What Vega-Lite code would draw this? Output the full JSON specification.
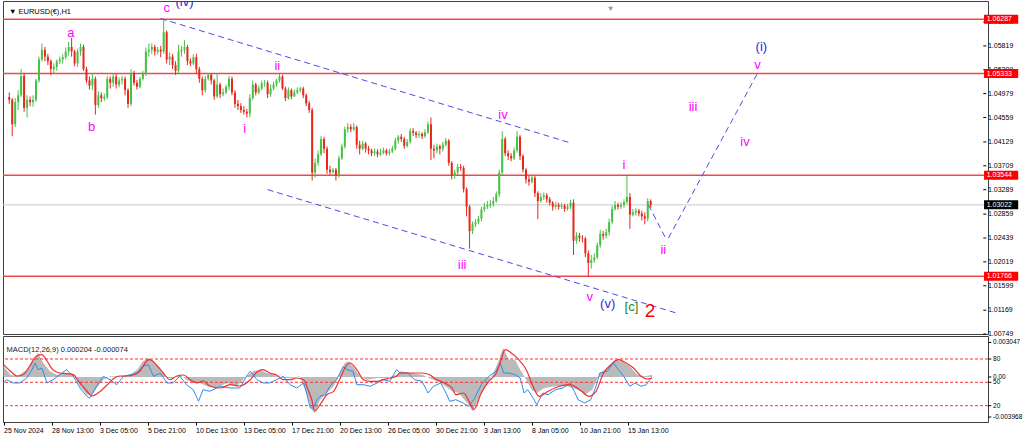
{
"$schema":"https://vega.github.io/schema/vega-lite/v6.json",
"background":"#ffffff",
"padding":{"left":0,"top":0,"right":0,"bottom":0},
"bounds":"flush",
"spacing":2,
"config":{"view":{"stroke":"#404040","strokeWidth":1},"font":"Liberation Sans","axis":{"labelFont":"Liberation Sans","labelColor":"#000000","tickColor":"#000000","labelFontSize":7,"grid":false,"domain":false}},
"datasets":{
"cd":[
{"i":1,"o":1.0492,"h":1.0500,"l":1.0480,"c":1.0487},{"i":5,"o":1.0487,"h":1.0490,"l":1.0423,"c":1.0444},{"i":9,"o":1.0444,"h":1.0490,"l":1.0439,"c":1.0483},{"i":13,"o":1.0483,"h":1.0504,"l":1.0469,"c":1.0495},{"i":17,"o":1.0495,"h":1.0541,"l":1.0492,"c":1.0529},{"i":21,"o":1.0529,"h":1.0534,"l":1.0466,"c":1.0473},{"i":25,"o":1.0473,"h":1.0495,"l":1.0456,"c":1.0487},{"i":29,"o":1.0487,"h":1.0493,"l":1.0476,"c":1.0483},{"i":33,"o":1.0483,"h":1.0495,"l":1.0475,"c":1.0487},{"i":37,"o":1.0487,"h":1.0524,"l":1.0483,"c":1.0521},
{"i":41,"o":1.0521,"h":1.0563,"l":1.0517,"c":1.0558},{"i":45,"o":1.0558,"h":1.0586,"l":1.0555,"c":1.0575},{"i":49,"o":1.0575,"h":1.0580,"l":1.0555,"c":1.0563},{"i":53,"o":1.0563,"h":1.0568,"l":1.0548,"c":1.0555},{"i":57,"o":1.0555,"h":1.0558,"l":1.0531,"c":1.0541},{"i":61,"o":1.0541,"h":1.0551,"l":1.0534,"c":1.0545},{"i":65,"o":1.0545,"h":1.0558,"l":1.0538,"c":1.0555},{"i":69,"o":1.0555,"h":1.0563,"l":1.0550,"c":1.0558},{"i":73,"o":1.0558,"h":1.0567,"l":1.0551,"c":1.0562},{"i":77,"o":1.0562,"h":1.0579,"l":1.0558,"c":1.0572},
{"i":81,"o":1.0572,"h":1.0589,"l":1.0565,"c":1.0580},{"i":85,"o":1.0580,"h":1.0596,"l":1.0563,"c":1.0572},{"i":89,"o":1.0572,"h":1.0575,"l":1.0546,"c":1.0551},{"i":93,"o":1.0551,"h":1.0577,"l":1.0545,"c":1.0572},{"i":97,"o":1.0572,"h":1.0586,"l":1.0565,"c":1.0580},{"i":101,"o":1.0580,"h":1.0584,"l":1.0538,"c":1.0541},{"i":105,"o":1.0541,"h":1.0545,"l":1.0516,"c":1.0521},{"i":109,"o":1.0521,"h":1.0528,"l":1.0505,"c":1.0512},{"i":113,"o":1.0512,"h":1.0534,"l":1.0504,"c":1.0524},{"i":117,"o":1.0524,"h":1.0528,"l":1.0461,"c":1.0478},
{"i":121,"o":1.0478,"h":1.0502,"l":1.0473,"c":1.0495},{"i":125,"o":1.0495,"h":1.0500,"l":1.0483,"c":1.0490},{"i":129,"o":1.0490,"h":1.0498,"l":1.0485,"c":1.0492},{"i":133,"o":1.0492,"h":1.0529,"l":1.0488,"c":1.0524},{"i":137,"o":1.0524,"h":1.0528,"l":1.0507,"c":1.0517},{"i":141,"o":1.0517,"h":1.0534,"l":1.0510,"c":1.0528},{"i":145,"o":1.0528,"h":1.0533,"l":1.0507,"c":1.0514},{"i":149,"o":1.0514,"h":1.0526,"l":1.0509,"c":1.0521},{"i":153,"o":1.0521,"h":1.0529,"l":1.0514,"c":1.0524},{"i":157,"o":1.0524,"h":1.0528,"l":1.0495,"c":1.0504},
{"i":161,"o":1.0504,"h":1.0507,"l":1.0473,"c":1.0480},{"i":165,"o":1.0480,"h":1.0541,"l":1.0476,"c":1.0534},{"i":169,"o":1.0534,"h":1.0538,"l":1.0512,"c":1.0517},{"i":173,"o":1.0517,"h":1.0522,"l":1.0505,"c":1.0510},{"i":177,"o":1.0510,"h":1.0528,"l":1.0507,"c":1.0524},{"i":181,"o":1.0524,"h":1.0538,"l":1.0521,"c":1.0533},{"i":185,"o":1.0533,"h":1.0579,"l":1.0529,"c":1.0572},{"i":189,"o":1.0572,"h":1.0586,"l":1.0563,"c":1.0575},{"i":193,"o":1.0575,"h":1.0586,"l":1.0568,"c":1.0580},{"i":197,"o":1.0580,"h":1.0584,"l":1.0565,"c":1.0572},
{"i":201,"o":1.0572,"h":1.0580,"l":1.0567,"c":1.0575},{"i":205,"o":1.0575,"h":1.0582,"l":1.0562,"c":1.0572},{"i":209,"o":1.0572,"h":1.0628,"l":1.0568,"c":1.0606},{"i":213,"o":1.0606,"h":1.0609,"l":1.0551,"c":1.0558},{"i":217,"o":1.0558,"h":1.0570,"l":1.0548,"c":1.0563},{"i":221,"o":1.0563,"h":1.0568,"l":1.0541,"c":1.0548},{"i":225,"o":1.0548,"h":1.0555,"l":1.0531,"c":1.0538},{"i":229,"o":1.0538,"h":1.0584,"l":1.0534,"c":1.0572},{"i":233,"o":1.0572,"h":1.0582,"l":1.0563,"c":1.0575},{"i":237,"o":1.0575,"h":1.0592,"l":1.0568,"c":1.0580},
{"i":241,"o":1.0580,"h":1.0584,"l":1.0548,"c":1.0555},{"i":245,"o":1.0555,"h":1.0560,"l":1.0546,"c":1.0551},{"i":249,"o":1.0551,"h":1.0567,"l":1.0548,"c":1.0562},{"i":253,"o":1.0562,"h":1.0568,"l":1.0533,"c":1.0541},{"i":257,"o":1.0541,"h":1.0545,"l":1.0517,"c":1.0524},{"i":261,"o":1.0524,"h":1.0528,"l":1.0495,"c":1.0504},{"i":265,"o":1.0504,"h":1.0529,"l":1.0500,"c":1.0524},{"i":269,"o":1.0524,"h":1.0534,"l":1.0521,"c":1.0531},{"i":273,"o":1.0531,"h":1.0534,"l":1.0514,"c":1.0521},{"i":277,"o":1.0521,"h":1.0524,"l":1.0487,"c":1.0493},
{"i":281,"o":1.0493,"h":1.0534,"l":1.0490,"c":1.0514},{"i":285,"o":1.0514,"h":1.0517,"l":1.0490,"c":1.0497},{"i":289,"o":1.0497,"h":1.0507,"l":1.0493,"c":1.0500},{"i":293,"o":1.0500,"h":1.0514,"l":1.0497,"c":1.0510},{"i":297,"o":1.0510,"h":1.0529,"l":1.0504,"c":1.0524},{"i":301,"o":1.0524,"h":1.0528,"l":1.0495,"c":1.0500},{"i":305,"o":1.0500,"h":1.0504,"l":1.0473,"c":1.0480},{"i":309,"o":1.0480,"h":1.0487,"l":1.0469,"c":1.0476},{"i":313,"o":1.0476,"h":1.0481,"l":1.0464,"c":1.0469},{"i":317,"o":1.0469,"h":1.0476,"l":1.0461,"c":1.0466},
{"i":321,"o":1.0466,"h":1.0471,"l":1.0456,"c":1.0463},{"i":325,"o":1.0463,"h":1.0497,"l":1.0456,"c":1.0490},{"i":329,"o":1.0490,"h":1.0521,"l":1.0487,"c":1.0514},{"i":333,"o":1.0514,"h":1.0517,"l":1.0495,"c":1.0500},{"i":337,"o":1.0500,"h":1.0512,"l":1.0497,"c":1.0507},{"i":341,"o":1.0507,"h":1.0521,"l":1.0504,"c":1.0516},{"i":345,"o":1.0516,"h":1.0522,"l":1.0510,"c":1.0517},{"i":349,"o":1.0517,"h":1.0521,"l":1.0490,"c":1.0497},{"i":353,"o":1.0497,"h":1.0514,"l":1.0492,"c":1.0507},{"i":357,"o":1.0507,"h":1.0519,"l":1.0504,"c":1.0514},
{"i":361,"o":1.0514,"h":1.0524,"l":1.0510,"c":1.0521},{"i":365,"o":1.0521,"h":1.0533,"l":1.0517,"c":1.0528},{"i":369,"o":1.0528,"h":1.0531,"l":1.0504,"c":1.0507},{"i":373,"o":1.0507,"h":1.0510,"l":1.0485,"c":1.0490},{"i":377,"o":1.0490,"h":1.0509,"l":1.0487,"c":1.0504},{"i":381,"o":1.0504,"h":1.0507,"l":1.0488,"c":1.0493},{"i":385,"o":1.0493,"h":1.0505,"l":1.0492,"c":1.0500},{"i":389,"o":1.0500,"h":1.0509,"l":1.0497,"c":1.0504},{"i":393,"o":1.0504,"h":1.0510,"l":1.0500,"c":1.0507},{"i":397,"o":1.0507,"h":1.0510,"l":1.0490,"c":1.0495},
{"i":401,"o":1.0495,"h":1.0498,"l":1.0476,"c":1.0481},{"i":405,"o":1.0481,"h":1.0485,"l":1.0464,"c":1.0469},{"i":409,"o":1.0469,"h":1.0473,"l":1.0345,"c":1.0359},{"i":413,"o":1.0359,"h":1.0384,"l":1.0350,"c":1.0376},{"i":417,"o":1.0376,"h":1.0398,"l":1.0371,"c":1.0391},{"i":421,"o":1.0391,"h":1.0423,"l":1.0388,"c":1.0418},{"i":425,"o":1.0418,"h":1.0422,"l":1.0393,"c":1.0401},{"i":429,"o":1.0401,"h":1.0405,"l":1.0357,"c":1.0364},{"i":433,"o":1.0364,"h":1.0371,"l":1.0355,"c":1.0360},{"i":437,"o":1.0360,"h":1.0367,"l":1.0357,"c":1.0364},
{"i":441,"o":1.0364,"h":1.0367,"l":1.0345,"c":1.0353},{"i":445,"o":1.0353,"h":1.0389,"l":1.0350,"c":1.0384},{"i":449,"o":1.0384,"h":1.0410,"l":1.0381,"c":1.0405},{"i":453,"o":1.0405,"h":1.0440,"l":1.0401,"c":1.0435},{"i":457,"o":1.0435,"h":1.0446,"l":1.0429,"c":1.0439},{"i":461,"o":1.0439,"h":1.0444,"l":1.0430,"c":1.0435},{"i":465,"o":1.0435,"h":1.0446,"l":1.0432,"c":1.0439},{"i":469,"o":1.0439,"h":1.0442,"l":1.0401,"c":1.0408},{"i":473,"o":1.0408,"h":1.0415,"l":1.0391,"c":1.0401},{"i":477,"o":1.0401,"h":1.0415,"l":1.0398,"c":1.0410},
{"i":481,"o":1.0410,"h":1.0413,"l":1.0394,"c":1.0401},{"i":485,"o":1.0401,"h":1.0406,"l":1.0391,"c":1.0398},{"i":489,"o":1.0398,"h":1.0401,"l":1.0388,"c":1.0393},{"i":493,"o":1.0393,"h":1.0401,"l":1.0389,"c":1.0396},{"i":497,"o":1.0396,"h":1.0400,"l":1.0386,"c":1.0391},{"i":501,"o":1.0391,"h":1.0401,"l":1.0388,"c":1.0394},{"i":505,"o":1.0394,"h":1.0403,"l":1.0391,"c":1.0398},{"i":509,"o":1.0398,"h":1.0401,"l":1.0389,"c":1.0393},{"i":513,"o":1.0393,"h":1.0401,"l":1.0389,"c":1.0396},{"i":517,"o":1.0396,"h":1.0406,"l":1.0393,"c":1.0401},
{"i":521,"o":1.0401,"h":1.0420,"l":1.0398,"c":1.0415},{"i":525,"o":1.0415,"h":1.0425,"l":1.0410,"c":1.0422},{"i":529,"o":1.0422,"h":1.0427,"l":1.0413,"c":1.0418},{"i":533,"o":1.0418,"h":1.0422,"l":1.0401,"c":1.0406},{"i":537,"o":1.0406,"h":1.0418,"l":1.0403,"c":1.0413},{"i":541,"o":1.0413,"h":1.0437,"l":1.0410,"c":1.0432},{"i":545,"o":1.0432,"h":1.0437,"l":1.0423,"c":1.0429},{"i":549,"o":1.0429,"h":1.0432,"l":1.0420,"c":1.0425},{"i":553,"o":1.0425,"h":1.0432,"l":1.0420,"c":1.0427},{"i":557,"o":1.0427,"h":1.0430,"l":1.0418,"c":1.0423},
{"i":561,"o":1.0423,"h":1.0435,"l":1.0420,"c":1.0430},{"i":565,"o":1.0430,"h":1.0449,"l":1.0427,"c":1.0444},{"i":569,"o":1.0444,"h":1.0456,"l":1.0381,"c":1.0401},{"i":573,"o":1.0401,"h":1.0408,"l":1.0384,"c":1.0398},{"i":577,"o":1.0398,"h":1.0410,"l":1.0393,"c":1.0405},{"i":581,"o":1.0405,"h":1.0408,"l":1.0391,"c":1.0401},{"i":585,"o":1.0401,"h":1.0413,"l":1.0396,"c":1.0408},{"i":589,"o":1.0408,"h":1.0420,"l":1.0405,"c":1.0415},{"i":593,"o":1.0415,"h":1.0418,"l":1.0371,"c":1.0376},{"i":597,"o":1.0376,"h":1.0379,"l":1.0347,"c":1.0353},
{"i":601,"o":1.0353,"h":1.0364,"l":1.0348,"c":1.0359},{"i":605,"o":1.0359,"h":1.0374,"l":1.0355,"c":1.0369},{"i":609,"o":1.0369,"h":1.0374,"l":1.0362,"c":1.0367},{"i":613,"o":1.0367,"h":1.0371,"l":1.0324,"c":1.0330},{"i":617,"o":1.0330,"h":1.0333,"l":1.0282,"c":1.0299},{"i":621,"o":1.0299,"h":1.0302,"l":1.0225,"c":1.0256},{"i":625,"o":1.0256,"h":1.0273,"l":1.0251,"c":1.0268},{"i":629,"o":1.0268,"h":1.0277,"l":1.0263,"c":1.0272},{"i":633,"o":1.0272,"h":1.0283,"l":1.0268,"c":1.0278},{"i":637,"o":1.0278,"h":1.0299,"l":1.0273,"c":1.0294},
{"i":641,"o":1.0294,"h":1.0306,"l":1.0290,"c":1.0299},{"i":645,"o":1.0299,"h":1.0309,"l":1.0295,"c":1.0302},{"i":649,"o":1.0302,"h":1.0311,"l":1.0297,"c":1.0304},{"i":653,"o":1.0304,"h":1.0316,"l":1.0299,"c":1.0309},{"i":657,"o":1.0309,"h":1.0326,"l":1.0306,"c":1.0321},{"i":661,"o":1.0321,"h":1.0364,"l":1.0316,"c":1.0359},{"i":665,"o":1.0359,"h":1.0432,"l":1.0353,"c":1.0418},{"i":669,"o":1.0418,"h":1.0422,"l":1.0388,"c":1.0393},{"i":673,"o":1.0393,"h":1.0398,"l":1.0381,"c":1.0388},{"i":677,"o":1.0388,"h":1.0393,"l":1.0379,"c":1.0384},
{"i":681,"o":1.0384,"h":1.0403,"l":1.0381,"c":1.0398},{"i":685,"o":1.0398,"h":1.0432,"l":1.0394,"c":1.0422},{"i":689,"o":1.0422,"h":1.0425,"l":1.0381,"c":1.0388},{"i":693,"o":1.0388,"h":1.0391,"l":1.0359,"c":1.0364},{"i":697,"o":1.0364,"h":1.0367,"l":1.0340,"c":1.0347},{"i":701,"o":1.0347,"h":1.0353,"l":1.0336,"c":1.0343},{"i":705,"o":1.0343,"h":1.0355,"l":1.0340,"c":1.0350},{"i":709,"o":1.0350,"h":1.0353,"l":1.0316,"c":1.0323},{"i":713,"o":1.0323,"h":1.0326,"l":1.0277,"c":1.0309},{"i":717,"o":1.0309,"h":1.0323,"l":1.0306,"c":1.0316},
{"i":721,"o":1.0316,"h":1.0324,"l":1.0311,"c":1.0319},{"i":725,"o":1.0319,"h":1.0323,"l":1.0306,"c":1.0312},{"i":729,"o":1.0312,"h":1.0316,"l":1.0301,"c":1.0306},{"i":733,"o":1.0306,"h":1.0309,"l":1.0292,"c":1.0299},{"i":737,"o":1.0299,"h":1.0307,"l":1.0295,"c":1.0302},{"i":741,"o":1.0302,"h":1.0306,"l":1.0294,"c":1.0299},{"i":745,"o":1.0299,"h":1.0306,"l":1.0295,"c":1.0301},{"i":749,"o":1.0301,"h":1.0304,"l":1.0290,"c":1.0295},{"i":753,"o":1.0295,"h":1.0304,"l":1.0292,"c":1.0299},{"i":757,"o":1.0299,"h":1.0311,"l":1.0295,"c":1.0306},
{"i":761,"o":1.0306,"h":1.0312,"l":1.0214,"c":1.0239},{"i":765,"o":1.0239,"h":1.0254,"l":1.0234,"c":1.0248},{"i":769,"o":1.0248,"h":1.0253,"l":1.0237,"c":1.0244},{"i":773,"o":1.0244,"h":1.0249,"l":1.0236,"c":1.0243},{"i":777,"o":1.0243,"h":1.0246,"l":1.0210,"c":1.0217},{"i":781,"o":1.0217,"h":1.0222,"l":1.0176,"c":1.0200},{"i":785,"o":1.0200,"h":1.0214,"l":1.0190,"c":1.0205},{"i":789,"o":1.0205,"h":1.0217,"l":1.0200,"c":1.0210},{"i":793,"o":1.0210,"h":1.0236,"l":1.0207,"c":1.0231},{"i":797,"o":1.0231,"h":1.0258,"l":1.0227,"c":1.0251},
{"i":801,"o":1.0251,"h":1.0256,"l":1.0241,"c":1.0248},{"i":805,"o":1.0248,"h":1.0260,"l":1.0243,"c":1.0254},{"i":809,"o":1.0254,"h":1.0278,"l":1.0248,"c":1.0272},{"i":813,"o":1.0272,"h":1.0301,"l":1.0268,"c":1.0295},{"i":817,"o":1.0295,"h":1.0309,"l":1.0292,"c":1.0302},{"i":821,"o":1.0302,"h":1.0306,"l":1.0294,"c":1.0299},{"i":825,"o":1.0299,"h":1.0307,"l":1.0295,"c":1.0302},{"i":829,"o":1.0302,"h":1.0312,"l":1.0297,"c":1.0307},{"i":833,"o":1.0307,"h":1.0353,"l":1.0304,"c":1.0316},{"i":837,"o":1.0316,"h":1.0323,"l":1.0260,"c":1.0285},
{"i":841,"o":1.0285,"h":1.0295,"l":1.0282,"c":1.0289},{"i":845,"o":1.0289,"h":1.0297,"l":1.0283,"c":1.0292},{"i":849,"o":1.0292,"h":1.0295,"l":1.0282,"c":1.0287},{"i":853,"o":1.0287,"h":1.0292,"l":1.0275,"c":1.0282},{"i":857,"o":1.0282,"h":1.0289,"l":1.0268,"c":1.0278},{"i":861,"o":1.0278,"h":1.0314,"l":1.0273,"c":1.0309},{"i":865,"o":1.0309,"h":1.0312,"l":1.0297,"c":1.0302}
],
"hl":[{"p":1.06287},{"p":1.05333},{"p":1.03544},{"p":1.01766}],
"bid":[{"p":1.03022}],
"yt":[{"p":1.06239},{"p":1.05819},{"p":1.05399},{"p":1.04979},{"p":1.04559},{"p":1.04129},{"p":1.03709},{"p":1.03289},{"p":1.02859},{"p":1.02439},{"p":1.02019},{"p":1.01599},{"p":1.01169},{"p":1.00749}],
"lb":[{"p":1.06287,"k":"r"},{"p":1.05333,"k":"r"},{"p":1.03544,"k":"r"},{"p":1.03022,"k":"k"},{"p":1.01766,"k":"r"}],
"ln":[{"g":"u","i":205,"p":1.0630},{"g":"u","i":755,"p":1.0412},{"g":"d","i":349,"p":1.0329},{"g":"d","i":902,"p":1.0111},{"g":"a","i":862,"p":1.0302},{"g":"a","i":885,"p":1.0244},{"g":"b","i":889,"p":1.0244},{"g":"b","i":1009,"p":1.0534}],
"an":[{"t":"a","i":84,"p":1.0605,"k":"m"},{"t":"b","i":112,"p":1.0440,"k":"m"},{"t":"c","i":213,"p":1.0648,"k":"m"},{"t":"(iv)","i":237,"p":1.0659,"k":"b"},{"t":"i","i":318,"p":1.0435,"k":"m"},{"t":"ii","i":362,"p":1.0546,"k":"m"},{"t":"iii","i":611,"p":1.0196,"k":"m"},{"t":"iv","i":666,"p":1.0461,"k":"m"},{"t":"i","i":829,"p":1.0373,"k":"m"},{"t":"ii","i":882,"p":1.0222,"k":"m"},{"t":"v","i":783,"p":1.0140,"k":"m"},{"t":"(v)","i":807,"p":1.0128,"k":"b"},{"t":"[c]","i":839,"p":1.0123,"k":"g"},{"t":"iii","i":922,"p":1.0475,"k":"m"},{"t":"iv","i":992,"p":1.0413,"k":"m"},{"t":"v","i":1009,"p":1.0549,"k":"m"},{"t":"(i)","i":1014,"p":1.0580,"k":"b"}],
"two":[{"t":"2","i":864,"p":1.0115}],
"ttl":[{"t":"▼ EURUSD(€),H1","i":0.6,"p":1.06413}],
"tri":[{"i":811,"p":1.0647}],
"mt":[{"t":"MACD(12,26,9) 0.000204 -0.000074","i":4,"v":0.00241}],
"mtk":[{"v":0.003047,"t":"0.003047"},{"v":0.001587,"t":"80"},{"v":0,"t":"0.00"},{"v":-0.000467,"t":"50"},{"v":-0.002531,"t":"20"},{"v":-0.003528,"t":"-0.003968"}],
"lv":[{"v":0.001587},{"v":-0.000467},{"v":-0.002531}],
"hs":[{"i":0,"v":0.000970},{"i":9,"v":0.000203},{"i":18,"v":0.000062},{"i":31,"v":0.000644},{"i":40,"v":0.001526},{"i":46,"v":0.002117},{"i":53,"v":0.001235},{"i":62,"v":0.000503},{"i":71,"v":0.000203},{"i":84,"v":0.000353},{"i":93,"v":0.000203},{"i":102,"v":-0.000820},{"i":111,"v":-0.001561},{"i":118,"v":-0.001561},{"i":124,"v":-0.000970},{"i":133,"v":-0.000238},{"i":142,"v":0.000062},{"i":155,"v":0.000062},{"i":169,"v":0.000203},{"i":178,"v":0.000644},{"i":186,"v":0.001385},{"i":193,"v":0.001676},{"i":200,"v":0.001385},{"i":209,"v":0.000644},{"i":218,"v":-0.000088},{"i":226,"v":-0.000088},{"i":235,"v":0.000203},{"i":244,"v":-0.000238},{"i":253,"v":-0.000529},{"i":262,"v":-0.000529},{"i":271,"v":-0.000820},{"i":284,"v":-0.000970},{"i":298,"v":-0.000529},{"i":311,"v":-0.000820},{"i":324,"v":0.000062},{"i":333,"v":0.000503},{"i":342,"v":0.000644},{"i":351,"v":0.000353},{"i":360,"v":0.000203},{"i":373,"v":-0.000088},{"i":386,"v":-0.000088},{"i":395,"v":0.000062},{"i":404,"v":-0.001411},{"i":411,"v":-0.002884},{"i":415,"v":-0.003175},{"i":422,"v":-0.002002},{"i":431,"v":-0.001411},{"i":440,"v":-0.000820},{"i":449,"v":0.000353},{"i":455,"v":0.001235},{"i":460,"v":0.001385},{"i":466,"v":0.000944},{"i":475,"v":0.000062},{"i":484,"v":-0.000238},{"i":498,"v":-0.000088},{"i":511,"v":-0.000088},{"i":524,"v":0.000203},{"i":529,"v":0.000503},{"i":558,"v":0.000203},{"i":573,"v":-0.000238},{"i":583,"v":-0.000529},{"i":598,"v":-0.001261},{"i":607,"v":-0.001411},{"i":620,"v":-0.002443},{"i":625,"v":-0.003025},{"i":633,"v":-0.002002},{"i":642,"v":-0.000820},{"i":652,"v":0.000203},{"i":659,"v":0.001235},{"i":666,"v":0.002558},{"i":674,"v":0.001526},{"i":682,"v":0.001526},{"i":689,"v":0.000644},{"i":697,"v":-0.000238},{"i":704,"v":-0.001120},{"i":711,"v":-0.001411},{"i":721,"v":-0.000970},{"i":736,"v":-0.000820},{"i":751,"v":-0.000820},{"i":766,"v":-0.001120},{"i":775,"v":-0.001561},{"i":785,"v":-0.001120},{"i":795,"v":0.000353},{"i":805,"v":0.000794},{"i":815,"v":0.001526},{"i":825,"v":0.001385},{"i":835,"v":0.000944},{"i":845,"v":0.000203},{"i":855,"v":0.000062},{"i":865,"v":0.000204}],
"sg":[{"i":0,"v":0.001085},{"i":9,"v":0.000529},{"i":18,"v":0.000088},{"i":26,"v":0.000203},{"i":35,"v":0.000970},{"i":44,"v":0.001852},{"i":51,"v":0.001967},{"i":58,"v":0.001411},{"i":66,"v":0.000617},{"i":75,"v":0.000353},{"i":84,"v":0.000291},{"i":93,"v":0.000203},{"i":102,"v":-0.000529},{"i":111,"v":-0.001235},{"i":118,"v":-0.001676},{"i":126,"v":-0.001411},{"i":138,"v":-0.000706},{"i":146,"v":-0.000176},{"i":155,"v":0.000088},{"i":164,"v":0.000088},{"i":173,"v":0.000176},{"i":182,"v":0.000529},{"i":191,"v":0.001411},{"i":195,"v":0.001526},{"i":204,"v":0.001058},{"i":213,"v":0.000353},{"i":222,"v":-0.000238},{"i":231,"v":0.000088},{"i":240,"v":0.000176},{"i":249,"v":-0.000238},{"i":258,"v":-0.000529},{"i":266,"v":-0.000353},{"i":275,"v":-0.000794},{"i":289,"v":-0.000970},{"i":302,"v":-0.000679},{"i":315,"v":-0.000794},{"i":329,"v":-0.000238},{"i":338,"v":0.000441},{"i":346,"v":0.000644},{"i":355,"v":0.000353},{"i":364,"v":0.000176},{"i":373,"v":-0.000238},{"i":382,"v":-0.000238},{"i":391,"v":-0.000088},{"i":400,"v":-0.000238},{"i":406,"v":-0.001120},{"i":411,"v":-0.002002},{"i":415,"v":-0.002999},{"i":422,"v":-0.002443},{"i":431,"v":-0.001561},{"i":440,"v":-0.001261},{"i":449,"v":-0.000088},{"i":458,"v":0.001085},{"i":462,"v":0.001235},{"i":471,"v":0.000644},{"i":480,"v":-0.000238},{"i":489,"v":-0.000379},{"i":498,"v":-0.000379},{"i":506,"v":-0.000238},{"i":515,"v":-0.000088},{"i":524,"v":0.000062},{"i":529,"v":0.000353},{"i":542,"v":0.000353},{"i":558,"v":0.000353},{"i":568,"v":0.000203},{"i":578,"v":-0.000238},{"i":588,"v":-0.000529},{"i":598,"v":-0.000970},{"i":603,"v":-0.001561},{"i":613,"v":-0.001411},{"i":623,"v":-0.002443},{"i":627,"v":-0.002884},{"i":637,"v":-0.001411},{"i":647,"v":-0.000379},{"i":657,"v":0.000353},{"i":662,"v":0.001235},{"i":669,"v":0.002408},{"i":677,"v":0.002117},{"i":687,"v":0.001526},{"i":697,"v":0.000644},{"i":706,"v":-0.000820},{"i":714,"v":-0.001702},{"i":726,"v":-0.001261},{"i":741,"v":-0.000820},{"i":755,"v":-0.000679},{"i":771,"v":-0.001261},{"i":780,"v":-0.001702},{"i":790,"v":-0.001261},{"i":800,"v":0.000353},{"i":810,"v":0.001085},{"i":820,"v":0.001526},{"i":830,"v":0.001235},{"i":840,"v":0.000794},{"i":850,"v":0.000062},{"i":859,"v":-0.000176},{"i":865,"v":-0.000074}],
"bl":[{"i":0,"v":-0.000529},{"i":4,"v":-0.000238},{"i":13,"v":-0.000529},{"i":22,"v":-0.000529},{"i":31,"v":-0.000088},{"i":38,"v":0.000644},{"i":42,"v":0.001235},{"i":46,"v":0.000644},{"i":51,"v":0.000794},{"i":58,"v":-0.000529},{"i":66,"v":-0.000238},{"i":75,"v":0.000203},{"i":84,"v":0.000644},{"i":93,"v":0.000062},{"i":102,"v":-0.000970},{"i":111,"v":-0.001702},{"i":115,"v":-0.001852},{"i":124,"v":-0.000820},{"i":133,"v":0.000062},{"i":142,"v":-0.000238},{"i":151,"v":-0.000679},{"i":160,"v":0.000062},{"i":169,"v":0.000203},{"i":178,"v":0.000353},{"i":186,"v":0.000944},{"i":193,"v":0.001085},{"i":200,"v":0.000062},{"i":209,"v":0.000353},{"i":218,"v":-0.000529},{"i":226,"v":-0.000529},{"i":235,"v":0.000062},{"i":244,"v":-0.000679},{"i":253,"v":-0.001120},{"i":260,"v":-0.002143},{"i":266,"v":-0.001120},{"i":275,"v":-0.001261},{"i":289,"v":-0.000820},{"i":302,"v":-0.000970},{"i":315,"v":-0.000970},{"i":324,"v":0.000062},{"i":329,"v":0.000503},{"i":338,"v":-0.000238},{"i":346,"v":-0.000529},{"i":355,"v":-0.000529},{"i":364,"v":-0.000238},{"i":373,"v":0.000062},{"i":382,"v":-0.000679},{"i":391,"v":-0.000970},{"i":400,"v":-0.000529},{"i":404,"v":-0.001411},{"i":409,"v":-0.002734},{"i":413,"v":-0.002734},{"i":418,"v":-0.002002},{"i":422,"v":-0.001702},{"i":429,"v":-0.001561},{"i":435,"v":-0.000820},{"i":444,"v":-0.000238},{"i":453,"v":0.000944},{"i":458,"v":0.000644},{"i":466,"v":0.000503},{"i":471,"v":-0.000679},{"i":480,"v":-0.000679},{"i":489,"v":-0.000820},{"i":498,"v":-0.000529},{"i":506,"v":-0.000238},{"i":515,"v":-0.000379},{"i":524,"v":0.000644},{"i":529,"v":0.000353},{"i":539,"v":0.000353},{"i":548,"v":-0.000238},{"i":558,"v":-0.000379},{"i":566,"v":-0.001411},{"i":573,"v":-0.000820},{"i":583,"v":-0.000529},{"i":590,"v":-0.001411},{"i":595,"v":-0.002143},{"i":603,"v":-0.002002},{"i":613,"v":-0.002293},{"i":620,"v":-0.002584},{"i":627,"v":-0.002002},{"i":637,"v":-0.000679},{"i":647,"v":0.000062},{"i":657,"v":0.000503},{"i":662,"v":0.001235},{"i":667,"v":0.000353},{"i":674,"v":0.000353},{"i":682,"v":0.000203},{"i":689,"v":-0.000088},{"i":694,"v":-0.001411},{"i":699,"v":-0.001120},{"i":706,"v":-0.001852},{"i":711,"v":-0.002443},{"i":719,"v":-0.001411},{"i":726,"v":-0.001561},{"i":736,"v":-0.001120},{"i":746,"v":-0.000970},{"i":755,"v":-0.000529},{"i":761,"v":-0.001261},{"i":766,"v":-0.002002},{"i":775,"v":-0.002293},{"i":783,"v":-0.002002},{"i":790,"v":-0.000820},{"i":795,"v":0.000353},{"i":805,"v":0.000503},{"i":813,"v":0.001235},{"i":820,"v":0.000644},{"i":827,"v":0.000062},{"i":835,"v":-0.000820},{"i":842,"v":-0.000529},{"i":850,"v":-0.000820},{"i":857,"v":-0.000679},{"i":862,"v":-0.000238}]
},
"vconcat":[
{
"width":985,"height":333,
"layer":[
{"data":{"name":"hl"},"mark":{"type":"rule","color":"#f04848","strokeWidth":1.5},
 "encoding":{"y":{"field":"p","type":"quantitative","scale":{"domain":[1.00838,1.06521],"nice":false,"zero":false},"axis":null}}},
{"data":{"name":"bid"},"mark":{"type":"rule","color":"#c8c8c8","strokeWidth":1},
 "encoding":{"y":{"field":"p","type":"quantitative","axis":null}}},
{"data":{"name":"cd"},"mark":{"type":"rule","strokeWidth":1},
 "encoding":{"x":{"field":"i","type":"quantitative","scale":{"domain":[-0.7,1312.6],"nice":false,"zero":false},"axis":null},
  "y":{"field":"l","type":"quantitative","axis":null},"y2":{"field":"h"},
  "color":{"condition":{"test":"datum.c >= datum.o","value":"#45c245"},"value":"#e8261c"}}},
{"data":{"name":"cd"},"mark":{"type":"bar","size":2,"orient":"vertical"},
 "encoding":{"x":{"field":"i","type":"quantitative","axis":null},
  "y":{"field":"o","type":"quantitative","axis":null},"y2":{"field":"c"},
  "color":{"condition":{"test":"datum.c >= datum.o","value":"#45c245"},"value":"#e8261c"}}},
{"data":{"name":"ln"},"mark":{"type":"line","strokeDash":[6,4],"strokeWidth":1,"color":"#4a4af0"},
 "encoding":{"x":{"field":"i","type":"quantitative","axis":null},"y":{"field":"p","type":"quantitative","axis":null},"detail":{"field":"g"}}},
{"data":{"name":"an"},"mark":{"type":"text","fontSize":13,"font":"Liberation Sans","baseline":"middle","align":"center","clip":true},
 "encoding":{"x":{"field":"i","type":"quantitative","axis":null},"y":{"field":"p","type":"quantitative","axis":null},"text":{"field":"t"},
  "color":{"field":"k","type":"nominal","scale":{"domain":["m","b","g"],"range":["#ff00ff","#2828d8","#1d8a1d"]},"legend":null}}},
{"data":{"name":"two"},"mark":{"type":"text","fontSize":19,"font":"Liberation Sans","baseline":"middle","align":"center","color":"#ff0000"},
 "encoding":{"x":{"field":"i","type":"quantitative","axis":null},"y":{"field":"p","type":"quantitative","axis":null},"text":{"field":"t"}}},
{"data":{"name":"ttl"},"mark":{"type":"text","fontSize":7.5,"align":"left","baseline":"middle","color":"#000000"},
 "encoding":{"x":{"field":"i","type":"quantitative","axis":null},"y":{"field":"p","type":"quantitative","axis":null},"text":{"field":"t"}}},
{"data":{"name":"tri"},"mark":{"type":"point","shape":"triangle-down","filled":true,"size":25,"color":"#9a9a9a","opacity":1},
 "encoding":{"x":{"field":"i","type":"quantitative","axis":null},"y":{"field":"p","type":"quantitative","axis":null}}},
{"data":{"name":"yt"},"mark":{"type":"rule","color":"#000000","strokeWidth":1},
 "encoding":{"x":{"datum":1313,"type":"quantitative","axis":null},"x2":{"datum":1317},"y":{"field":"p","type":"quantitative","axis":null}}},
{"data":{"name":"yt"},"mark":{"type":"text","fontSize":7,"align":"left","baseline":"middle","color":"#000000"},
 "encoding":{"x":{"datum":1319.3,"type":"quantitative","axis":null},"y":{"field":"p","type":"quantitative","axis":null},"text":{"field":"p","type":"quantitative","format":".5f"}}},
{"data":{"name":"lb"},"mark":{"type":"bar","size":9,"orient":"horizontal"},
 "encoding":{"x":{"datum":1314,"type":"quantitative","axis":null},"x2":{"datum":1360},"y":{"field":"p","type":"quantitative","axis":null},
  "color":{"condition":{"test":"datum.k == 'r'","value":"#ff0000"},"value":"#000000"}}},
{"data":{"name":"lb"},"mark":{"type":"text","fontSize":7,"align":"left","baseline":"middle","color":"#ffffff"},
 "encoding":{"x":{"datum":1317.6,"type":"quantitative","axis":null},"y":{"field":"p","type":"quantitative","axis":null},"text":{"field":"p","type":"quantitative","format":".5f"}}}
]
},
{
"width":985,"height":86,
"layer":[
{"data":{"name":"hs"},"mark":{"type":"area","color":"#bababa","opacity":1},
 "encoding":{"x":{"field":"i","type":"quantitative","scale":{"domain":[-0.7,1312.6],"nice":false,"zero":false},
  "axis":{"title":null,"values":[0,64,128,192,256,320,384,448,512,576,640,704,768,832],
   "labelExpr":"['25 Nov 2024','28 Nov 13:00','3 Dec 05:00','5 Dec 21:00','10 Dec 13:00','13 Dec 05:00','17 Dec 21:00','20 Dec 13:00','26 Dec 05:00','30 Dec 21:00','3 Jan 13:00','8 Jan 05:00','10 Jan 21:00','15 Jan 13:00'][round(datum.value/64)]",
   "labelAlign":"left","labelFontSize":7,"tickSize":3,"labelPadding":1,"labelFlush":false,"labelOverlap":false,"grid":false,"domain":false}},
  "y":{"field":"v","type":"quantitative","scale":{"domain":[-0.003968,0.003615],"nice":false,"zero":false},"axis":null},
  "y2":{"datum":0}}},
{"data":{"name":"lv"},"mark":{"type":"rule","color":"#ff3030","strokeDash":[3,2],"strokeWidth":1},
 "encoding":{"y":{"field":"v","type":"quantitative","axis":null}}},
{"data":{"name":"bl"},"mark":{"type":"line","color":"#2f8cf0","strokeWidth":1},
 "encoding":{"x":{"field":"i","type":"quantitative","title":null},"y":{"field":"v","type":"quantitative","axis":null}}},
{"data":{"name":"sg"},"mark":{"type":"line","color":"#f03030","strokeWidth":1.2,"interpolate":"monotone"},
 "encoding":{"x":{"field":"i","type":"quantitative","title":null},"y":{"field":"v","type":"quantitative","axis":null}}},
{"data":{"name":"mt"},"mark":{"type":"text","fontSize":7.5,"align":"left","baseline":"middle","color":"#202020"},
 "encoding":{"x":{"field":"i","type":"quantitative","title":null},"y":{"field":"v","type":"quantitative","axis":null},"text":{"field":"t"}}},
{"data":{"name":"mtk"},"mark":{"type":"rule","color":"#000000","strokeWidth":1},
 "encoding":{"x":{"datum":1313,"type":"quantitative","title":null},"x2":{"datum":1317},"y":{"field":"v","type":"quantitative","axis":null}}},
{"data":{"name":"mtk"},"mark":{"type":"text","fontSize":6.5,"align":"left","baseline":"middle","color":"#000000"},
 "encoding":{"x":{"datum":1319.3,"type":"quantitative","title":null},"y":{"field":"v","type":"quantitative","axis":null},"text":{"field":"t"}}}
]
}
]
}
